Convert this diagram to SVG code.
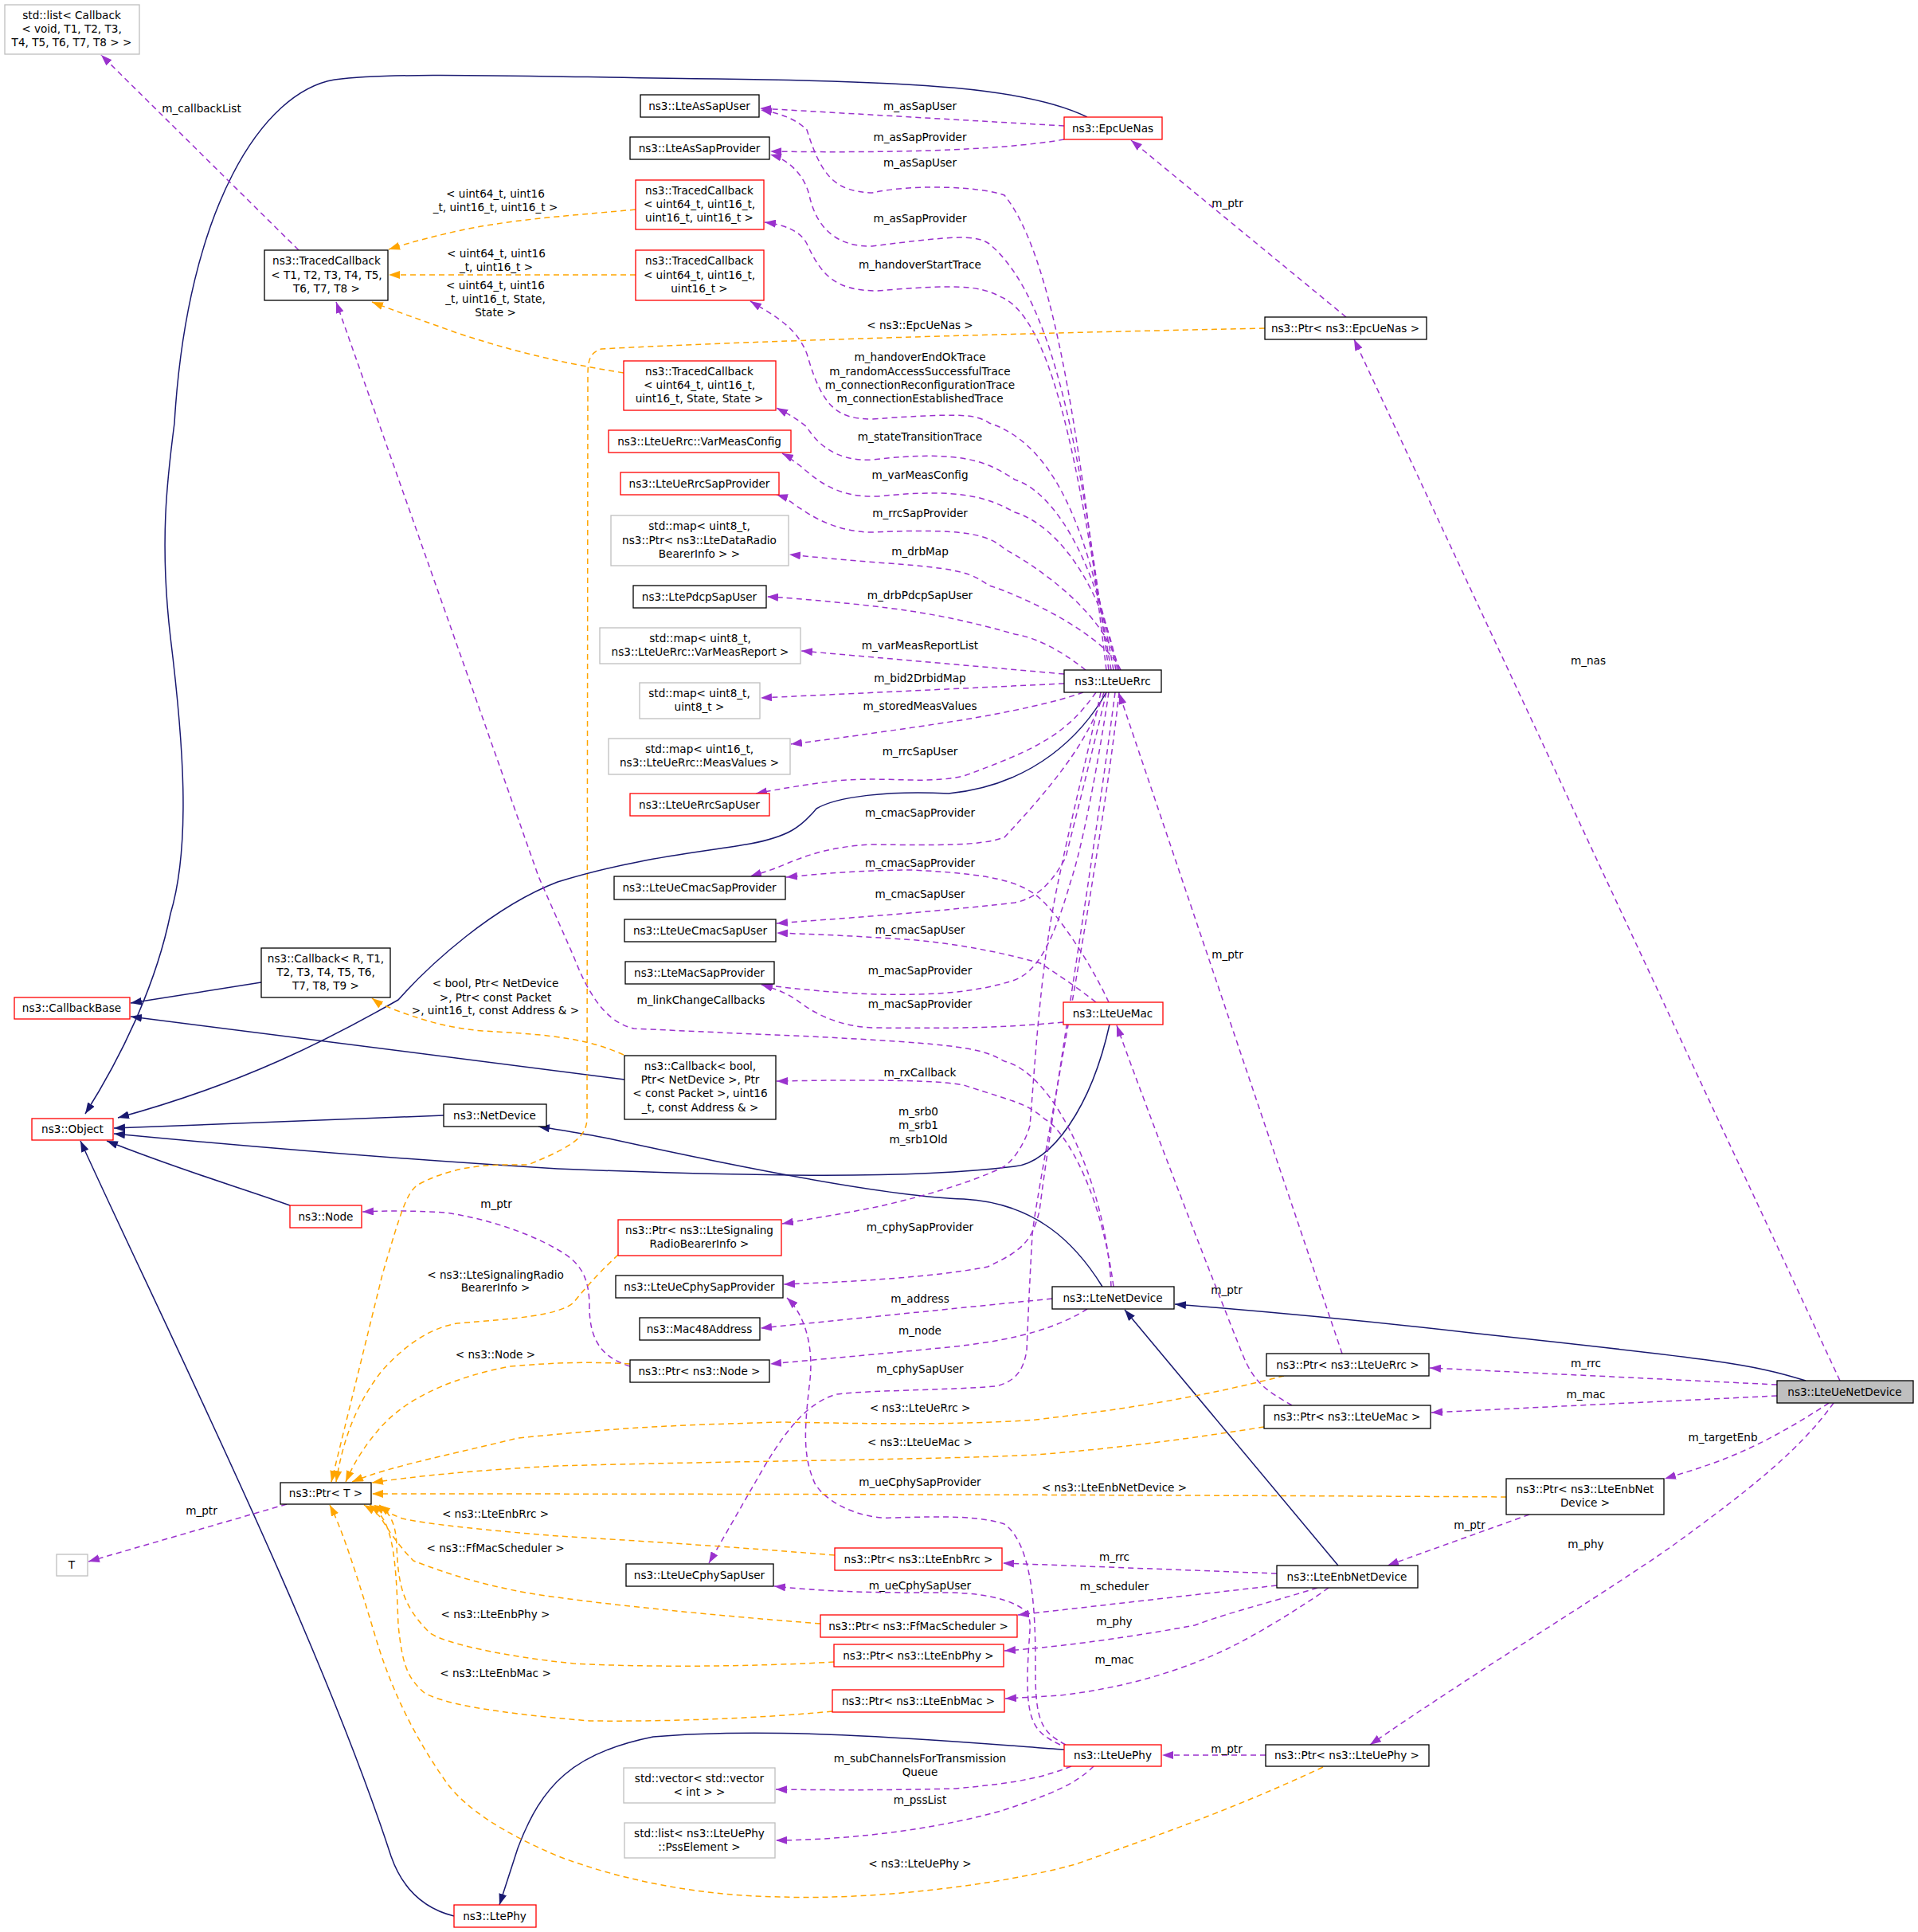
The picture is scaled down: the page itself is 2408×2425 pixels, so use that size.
<svg xmlns="http://www.w3.org/2000/svg" width="2408" height="2425" viewBox="0 0 2408 2425">
<style>
text{font-family:"DejaVu Sans","Liberation Sans",sans-serif;font-size:13.6px;fill:#000}
.n text{text-anchor:middle}
.l{text-anchor:middle}
rect{fill:#fff;stroke-width:1.3}
.b rect{stroke:#000}
.r rect{stroke:#ff0000}
.g rect{stroke:#bfbfbf}
.s rect{stroke:#000;fill:#bfbfbf}
.inh{fill:none;stroke:#191970;stroke-width:1.5;marker-end:url(#an)}
.use{fill:none;stroke:#9a32cd;stroke-width:1.5;stroke-dasharray:7,5;marker-end:url(#ap)}
.tpl{fill:none;stroke:#ffa500;stroke-width:1.5;stroke-dasharray:7,5;marker-end:url(#ao)}
</style>
<defs>
<marker id="an" markerWidth="14" markerHeight="10" refX="14" refY="5" orient="auto" markerUnits="userSpaceOnUse"><path d="M0,0L14,5L0,10z" fill="#191970"/></marker>
<marker id="ap" markerWidth="14" markerHeight="10" refX="14" refY="5" orient="auto" markerUnits="userSpaceOnUse"><path d="M0,0L14,5L0,10z" fill="#9a32cd"/></marker>
<marker id="ao" markerWidth="14" markerHeight="10" refX="14" refY="5" orient="auto" markerUnits="userSpaceOnUse"><path d="M0,0L14,5L0,10z" fill="#ffa500"/></marker>
</defs>
<rect x="0" y="0" width="2408" height="2425" style="fill:#fff;stroke:none"/>
<g id="edges">
<!-- inheritance -->
<path class="inh" d="M1365,147 C1290,110 1150,102 900,99 C650,96 500,90 420,100 C330,115 235,260 219,531 C210,600 200,680 214,800 C230,930 240,1060 214,1147 C195,1240 150,1330 107,1398"/>
<path class="inh" d="M1389,869 C1360,920 1300,985 1191,996 C1115,992 1050,1000 1025,1015 C1006,1038 990,1050 942,1059 C880,1070 796,1077 700,1107 C619,1138 540,1210 500,1255 C414,1304 306,1360 148,1403"/>
<path class="inh" d="M1393,1286 C1370,1390 1320,1460 1274,1464 C1146,1480 955,1477 700,1467 C500,1455 300,1438 143,1423"/>
<path class="inh" d="M557,1400 L143,1416"/>
<path class="inh" d="M784,1355 L164,1276"/>
<path class="inh" d="M328,1233 L164,1259"/>
<path class="inh" d="M364,1513 C300,1490 230,1470 134,1432"/>
<path class="inh" d="M1384,1615 C1350,1560 1300,1510 1210,1505 C1146,1503 1019,1485 764,1429 C730,1422 700,1418 676,1414"/>
<path class="inh" d="M2267,1733 C2200,1712 2154,1706 1847,1673 C1700,1656 1600,1647 1475,1637"/>
<path class="inh" d="M1680,1965 L1412,1644"/>
<path class="inh" d="M1336,2196 C1200,2186 981,2166 820,2180 C720,2200 680,2240 650,2320 L627,2391"/>
<path class="inh" d="M570,2405 C530,2395 505,2370 491,2330 C400,2050 200,1650 101,1432"/>
<!-- purple -->
<path class="use" d="M1336,158 L954,136"/>
<path class="use" d="M1336,175 C1250,190 1100,192 967,190"/>
<path class="use" d="M1389,841 C1360,600 1330,330 1261,245 C1235,235 1150,230 1095,242 C1050,240 1032,224 1013,163 C1000,150 980,142 955,138"/>
<path class="use" d="M1392,841 C1360,600 1330,380 1242,306 C1225,295 1204,295 1095,309 C1050,310 1025,286 1016,245 C1010,220 990,200 967,194"/>
<path class="use" d="M1395,841 C1360,640 1330,400 1255,372 C1230,358 1197,357 1102,365 C1050,365 1032,347 1013,306 C1005,290 985,282 960,279"/>
<path class="use" d="M1398,841 C1370,680 1330,560 1242,531 C1225,520 1210,518 1095,526 C1050,526 1032,510 1013,444 C1000,410 970,395 942,378"/>
<path class="use" d="M1401,841 C1380,720 1330,620 1274,602 C1240,580 1210,564 1095,577 C1050,580 1025,556 1013,536 C1000,525 990,520 975,512"/>
<path class="use" d="M1403,841 C1385,740 1330,660 1274,643 C1240,625 1210,612 1102,623 C1050,625 1025,602 1005,585 C995,578 990,573 982,569"/>
<path class="use" d="M1405,841 C1390,770 1300,710 1261,689 C1240,670 1210,663 1095,668 C1050,668 1019,648 1000,635 C990,628 985,624 975,621"/>
<path class="use" d="M1407,841 C1390,800 1290,750 1242,735 C1220,720 1210,714 1115,707 C1060,703 1020,699 991,696"/>
<path class="use" d="M1363,841 C1330,815 1300,800 1274,796 C1200,775 1146,765 1050,756 C1010,752 985,750 963,749"/>
<path class="use" d="M1336,846 L1006,817"/>
<path class="use" d="M1336,858 L955,876"/>
<path class="use" d="M1360,869 C1330,880 1274,893 1200,905 C1100,920 1050,927 993,934"/>
<path class="use" d="M1376,869 C1340,920 1306,939 1210,974 C1160,985 1115,974 1050,980 C1010,985 980,990 949,996"/>
<path class="use" d="M1386,869 C1370,920 1338,969 1261,1051 C1230,1062 1178,1061 1095,1060 C1050,1062 1019,1071 990,1083 C970,1092 955,1096 942,1100"/>
<path class="use" d="M1392,1258 C1370,1210 1330,1150 1306,1128 C1280,1105 1242,1097 1146,1092 C1080,1092 1030,1097 987,1101"/>
<path class="use" d="M1389,869 C1370,950 1338,1076 1338,1076 C1320,1110 1300,1128 1274,1133 C1150,1147 1050,1153 975,1159"/>
<path class="use" d="M1376,1258 C1340,1230 1306,1209 1306,1209 C1260,1196 1210,1186 1150,1180 C1080,1175 1030,1173 975,1171"/>
<path class="use" d="M1392,869 C1380,950 1360,1060 1344,1107 C1320,1190 1300,1220 1274,1230 C1220,1248 1159,1249 1100,1248 C1040,1246 1000,1241 956,1236"/>
<path class="use" d="M1335,1283 C1260,1290 1210,1291 1095,1290 C1050,1288 1019,1270 1000,1255 C985,1245 970,1240 956,1236"/>
<path class="use" d="M1395,1615 C1390,1500 1330,1350 1261,1332 C1230,1315 1210,1311 1019,1301 C900,1296 796,1291 796,1291 C770,1285 745,1265 720,1200 L676,1100 L422,379"/>
<path class="use" d="M1398,1615 C1380,1480 1330,1413 1312,1405 C1290,1385 1274,1383 1210,1362 C1180,1357 1146,1356 1060,1356 C1020,1356 990,1357 975,1357"/>
<path class="use" d="M1382,869 C1365,950 1350,1005 1330,1100 C1306,1209 1300,1330 1293,1413 C1285,1440 1270,1458 1261,1464 C1220,1485 1146,1505 1100,1515 C1050,1525 1010,1531 982,1536"/>
<path class="use" d="M1400,869 C1370,1100 1320,1400 1305,1520 C1295,1560 1282,1570 1240,1590 C1191,1600 1100,1608 984,1612"/>
<path class="use" d="M1321,1630 L955,1667"/>
<path class="use" d="M1365,1643 C1330,1665 1282,1681 1200,1690 C1100,1700 1030,1706 967,1712"/>
<path class="use" d="M791,1715 C760,1705 740,1687 740,1640 C740,1605 730,1585 701,1569 C660,1545 606,1529 560,1522 C510,1519 480,1520 455,1521"/>
<path class="use" d="M1338,2190 C1310,2175 1300,2164 1300,2100 C1300,2040 1300,1941 1261,1913 C1230,1903 1191,1903 1120,1905 C1086,1907 1040,1890 1023,1862 C1009,1830 1009,1801 1016,1740 C1023,1690 1010,1650 988,1629"/>
<path class="use" d="M1405,869 C1380,1100 1300,1500 1296,1550 C1292,1620 1289,1695 1289,1695 C1285,1720 1275,1734 1250,1740 C1191,1745 1086,1745 1050,1750 C1016,1760 990,1790 960,1840 L890,1962"/>
<path class="use" d="M1331,2190 C1300,2175 1289,2164 1290,2100 C1292,2041 1296,2041 1290,2025 C1280,2013 1250,2000 1191,1999 C1100,1999 1051,1999 972,1991"/>
<path class="use" d="M1603,1975 L1259,1962"/>
<path class="use" d="M1603,1990 L1278,2027"/>
<path class="use" d="M1654,1993 C1600,2010 1542,2024 1500,2040 C1402,2058 1320,2068 1261,2072"/>
<path class="use" d="M1668,1993 C1630,2020 1577,2052 1540,2070 C1472,2102 1400,2120 1331,2128 C1300,2130 1280,2131 1262,2132"/>
<path class="use" d="M1920,1901 L1742,1965"/>
<path class="use" d="M2296,1761 C2260,1785 2218,1809 2180,1825 C2150,1838 2120,1847 2090,1856"/>
<path class="use" d="M2302,1761 C2260,1820 2195,1871 2100,1940 C2021,1996 1850,2100 1720,2190"/>
<path class="use" d="M1589,2203 L1459,2203"/>
<path class="use" d="M2231,1738 L1795,1717"/>
<path class="use" d="M2231,1752 L1797,1773"/>
<path class="use" d="M2310,1733 L1700,426"/>
<path class="use" d="M1690,398 L1420,176"/>
<path class="use" d="M1685,1699 L1405,870"/>
<path class="use" d="M1622,1764 C1590,1745 1575,1737 1560,1700 C1520,1600 1450,1420 1402,1287"/>
<path class="use" d="M1345,2217 C1300,2235 1261,2239 1200,2245 C1121,2247 1050,2247 974,2246"/>
<path class="use" d="M1373,2217 C1350,2240 1317,2253 1260,2272 C1191,2292 1086,2309 974,2310"/>
<path class="use" d="M360,1888 L111,1960"/>
<path class="use" d="M375,314 L127,69"/>
<!-- orange -->
<path class="tpl" d="M798,263 C700,272 638,276 574,290 C530,300 510,306 488,313"/>
<path class="tpl" d="M798,345 L488,345"/>
<path class="tpl" d="M783,468 C700,455 638,439 574,418 C530,402 500,392 467,379"/>
<path class="tpl" d="M783,1324 C740,1305 702,1299 606,1294 C560,1290 530,1280 497,1268 C485,1263 475,1259 467,1253"/>
<path class="tpl" d="M1588,412 C1200,420 900,430 755,438 C742,442 738,450 738,470 L737,1406 C735,1425 725,1437 663,1462 C620,1462 574,1460 523,1488 C510,1500 504,1518 480,1600 L416,1860"/>
<path class="tpl" d="M776,1575 C760,1590 740,1610 720,1635 C701,1651 650,1655 574,1661 C540,1667 510,1687 480,1720 C446,1763 430,1810 422,1860"/>
<path class="tpl" d="M791,1712 C740,1709 701,1710 640,1715 C574,1728 520,1750 485,1784 C460,1810 445,1835 434,1860"/>
<path class="tpl" d="M1612,1727 C1550,1742 1472,1762 1300,1782 C1191,1790 1050,1786 981,1785 C800,1790 765,1794 650,1805 C574,1824 490,1840 442,1860"/>
<path class="tpl" d="M1587,1791 C1500,1805 1402,1818 1300,1826 C1191,1832 900,1834 700,1840 C600,1845 520,1853 467,1861"/>
<path class="tpl" d="M1891,1879 C1600,1877 1000,1875 467,1875"/>
<path class="tpl" d="M1048,1952 C900,1940 800,1934 701,1928 C600,1920 530,1912 505,1906 C490,1900 480,1895 469,1889"/>
<path class="tpl" d="M1030,2038 C900,2028 772,2015 700,2005 C620,1995 560,1975 519,1959 C500,1940 484,1915 478,1905 C470,1896 462,1892 457,1889"/>
<path class="tpl" d="M1047,2086 C950,2092 807,2093 720,2088 C631,2079 560,2063 540,2050 C505,2015 500,1990 498,1940 C497,1910 488,1898 476,1889"/>
<path class="tpl" d="M1045,2148 C950,2157 842,2161 740,2160 C631,2151 560,2140 533,2125 C510,2105 505,2087 500,2040 C498,1990 497,1930 480,1905 C475,1897 470,1893 464,1889"/>
<path class="tpl" d="M1661,2218 C1560,2265 1472,2298 1350,2340 C1261,2365 1100,2385 981,2381 C880,2380 780,2360 701,2330 C630,2300 585,2270 561,2238 C520,2180 490,2119 470,2050 C440,1950 425,1910 414,1889"/>
</g>
<g id="labels">
<text class="l" x="253" y="141">m_callbackList</text>
<text class="l" x="622" y="248">&lt; uint64_t, uint16</text>
<text class="l" x="622" y="265">_t, uint16_t, uint16_t &gt;</text>
<text class="l" x="623" y="323">&lt; uint64_t, uint16</text>
<text class="l" x="623" y="340">_t, uint16_t &gt;</text>
<text class="l" x="622" y="363">&lt; uint64_t, uint16</text>
<text class="l" x="622" y="380">_t, uint16_t, State,</text>
<text class="l" x="622" y="397">State &gt;</text>
<text class="l" x="1155" y="138">m_asSapUser</text>
<text class="l" x="1155" y="177">m_asSapProvider</text>
<text class="l" x="1155" y="209">m_asSapUser</text>
<text class="l" x="1155" y="279">m_asSapProvider</text>
<text class="l" x="1155" y="337">m_handoverStartTrace</text>
<text class="l" x="1541" y="260">m_ptr</text>
<text class="l" x="1155" y="413">&lt; ns3::EpcUeNas &gt;</text>
<text class="l" x="1155" y="453">m_handoverEndOkTrace</text>
<text class="l" x="1155" y="471">m_randomAccessSuccessfulTrace</text>
<text class="l" x="1155" y="488">m_connectionReconfigurationTrace</text>
<text class="l" x="1155" y="505">m_connectionEstablishedTrace</text>
<text class="l" x="1155" y="553">m_stateTransitionTrace</text>
<text class="l" x="1155" y="601">m_varMeasConfig</text>
<text class="l" x="1155" y="649">m_rrcSapProvider</text>
<text class="l" x="1155" y="697">m_drbMap</text>
<text class="l" x="1155" y="752">m_drbPdcpSapUser</text>
<text class="l" x="1155" y="815">m_varMeasReportList</text>
<text class="l" x="1155" y="856">m_bid2DrbidMap</text>
<text class="l" x="1155" y="891">m_storedMeasValues</text>
<text class="l" x="1155" y="948">m_rrcSapUser</text>
<text class="l" x="1155" y="1025">m_cmacSapProvider</text>
<text class="l" x="1155" y="1088">m_cmacSapProvider</text>
<text class="l" x="1155" y="1127">m_cmacSapUser</text>
<text class="l" x="1155" y="1172">m_cmacSapUser</text>
<text class="l" x="1155" y="1223">m_macSapProvider</text>
<text class="l" x="880" y="1260">m_linkChangeCallbacks</text>
<text class="l" x="1155" y="1265">m_macSapProvider</text>
<text class="l" x="1541" y="1203">m_ptr</text>
<text class="l" x="1994" y="834">m_nas</text>
<text class="l" x="1155" y="1351">m_rxCallback</text>
<text class="l" x="1153" y="1400">m_srb0</text>
<text class="l" x="1153" y="1417">m_srb1</text>
<text class="l" x="1153" y="1435">m_srb1Old</text>
<text class="l" x="1155" y="1545">m_cphySapProvider</text>
<text class="l" x="622" y="1239">&lt; bool, Ptr&lt; NetDevice</text>
<text class="l" x="622" y="1257">&gt;, Ptr&lt; const Packet</text>
<text class="l" x="622" y="1273">&gt;, uint16_t, const Address &amp; &gt;</text>
<text class="l" x="623" y="1516">m_ptr</text>
<text class="l" x="622" y="1605">&lt; ns3::LteSignalingRadio</text>
<text class="l" x="622" y="1621">BearerInfo &gt;</text>
<text class="l" x="622" y="1705">&lt; ns3::Node &gt;</text>
<text class="l" x="1155" y="1635">m_address</text>
<text class="l" x="1155" y="1675">m_node</text>
<text class="l" x="1155" y="1723">m_cphySapUser</text>
<text class="l" x="1540" y="1624">m_ptr</text>
<text class="l" x="1155" y="1772">&lt; ns3::LteUeRrc &gt;</text>
<text class="l" x="1155" y="1815">&lt; ns3::LteUeMac &gt;</text>
<text class="l" x="1155" y="1865">m_ueCphySapProvider</text>
<text class="l" x="1399" y="1872">&lt; ns3::LteEnbNetDevice &gt;</text>
<text class="l" x="1399" y="1959">m_rrc</text>
<text class="l" x="1155" y="1995">m_ueCphySapUser</text>
<text class="l" x="1399" y="1996">m_scheduler</text>
<text class="l" x="1399" y="2040">m_phy</text>
<text class="l" x="1399" y="2088">m_mac</text>
<text class="l" x="1540" y="2200">m_ptr</text>
<text class="l" x="1155" y="2212">m_subChannelsForTransmission</text>
<text class="l" x="1155" y="2229">Queue</text>
<text class="l" x="1155" y="2264">m_pssList</text>
<text class="l" x="1155" y="2344">&lt; ns3::LteUePhy &gt;</text>
<text class="l" x="1991" y="1716">m_rrc</text>
<text class="l" x="1991" y="1755">m_mac</text>
<text class="l" x="2163" y="1809">m_targetEnb</text>
<text class="l" x="1845" y="1919">m_ptr</text>
<text class="l" x="1991" y="1943">m_phy</text>
<text class="l" x="253" y="1901">m_ptr</text>
<text class="l" x="622" y="1905">&lt; ns3::LteEnbRrc &gt;</text>
<text class="l" x="622" y="1948">&lt; ns3::FfMacScheduler &gt;</text>
<text class="l" x="622" y="2031">&lt; ns3::LteEnbPhy &gt;</text>
<text class="l" x="622" y="2105">&lt; ns3::LteEnbMac &gt;</text>
</g>
<g id="stdlist" class="n g"><rect x="6" y="6" width="169" height="62"/><text x="90" y="24">std::list&lt; Callback</text><text x="90" y="41">&lt; void, T1, T2, T3,</text><text x="90" y="58"> T4, T5, T6, T7, T8 &gt; &gt;</text></g>
<g id="TracedCallbackGen" class="n b"><rect x="332" y="314" width="155" height="63"/><text x="410" y="332">ns3::TracedCallback</text><text x="410" y="350">&lt; T1, T2, T3, T4, T5,</text><text x="410" y="367">T6, T7, T8 &gt;</text></g>
<g id="LteAsSapUser" class="n b"><rect x="804" y="119" width="149" height="28"/><text x="878" y="138">ns3::LteAsSapUser</text></g>
<g id="LteAsSapProvider" class="n b"><rect x="791" y="172" width="175" height="28"/><text x="878" y="191">ns3::LteAsSapProvider</text></g>
<g id="TC4" class="n r"><rect x="798" y="226" width="161" height="62"/><text x="878" y="244">ns3::TracedCallback</text><text x="878" y="261">&lt; uint64_t, uint16_t,</text><text x="878" y="278">uint16_t, uint16_t &gt;</text></g>
<g id="TC3" class="n r"><rect x="798" y="314" width="161" height="63"/><text x="878" y="332">ns3::TracedCallback</text><text x="878" y="350">&lt; uint64_t, uint16_t,</text><text x="878" y="367">uint16_t &gt;</text></g>
<g id="TCstate" class="n r"><rect x="783" y="453" width="191" height="62"/><text x="878" y="471">ns3::TracedCallback</text><text x="878" y="488">&lt; uint64_t, uint16_t,</text><text x="878" y="505">uint16_t, State, State &gt;</text></g>
<g id="VarMeasConfig" class="n r"><rect x="764" y="540" width="229" height="28"/><text x="878" y="559">ns3::LteUeRrc::VarMeasConfig</text></g>
<g id="LteUeRrcSapProvider" class="n r"><rect x="779" y="593" width="199" height="28"/><text x="878" y="612">ns3::LteUeRrcSapProvider</text></g>
<g id="drbMap" class="n g"><rect x="767" y="647" width="223" height="63"/><text x="878" y="665">std::map&lt; uint8_t,</text><text x="878" y="683"> ns3::Ptr&lt; ns3::LteDataRadio</text><text x="878" y="700">BearerInfo &gt; &gt;</text></g>
<g id="LtePdcpSapUser" class="n b"><rect x="795" y="735" width="167" height="28"/><text x="878" y="754">ns3::LtePdcpSapUser</text></g>
<g id="VarMeasReport" class="n g"><rect x="753" y="788" width="252" height="45"/><text x="879" y="806">std::map&lt; uint8_t,</text><text x="879" y="823"> ns3::LteUeRrc::VarMeasReport &gt;</text></g>
<g id="map88" class="n g"><rect x="803" y="857" width="151" height="45"/><text x="878" y="875">std::map&lt; uint8_t,</text><text x="878" y="892">uint8_t &gt;</text></g>
<g id="MeasValues" class="n g"><rect x="764" y="927" width="228" height="45"/><text x="878" y="945">std::map&lt; uint16_t,</text><text x="878" y="962"> ns3::LteUeRrc::MeasValues &gt;</text></g>
<g id="LteUeRrcSapUser" class="n r"><rect x="791" y="996" width="175" height="28"/><text x="878" y="1015">ns3::LteUeRrcSapUser</text></g>
<g id="LteUeCmacSapProvider" class="n b"><rect x="771" y="1100" width="215" height="29"/><text x="878" y="1119">ns3::LteUeCmacSapProvider</text></g>
<g id="LteUeCmacSapUser" class="n b"><rect x="784" y="1154" width="190" height="28"/><text x="879" y="1173">ns3::LteUeCmacSapUser</text></g>
<g id="LteMacSapProvider" class="n b"><rect x="785" y="1207" width="187" height="28"/><text x="878" y="1226">ns3::LteMacSapProvider</text></g>
<g id="CallbackR" class="n b"><rect x="328" y="1190" width="162" height="62"/><text x="409" y="1208">ns3::Callback&lt; R, T1,</text><text x="409" y="1225">T2, T3, T4, T5, T6,</text><text x="409" y="1242">T7, T8, T9 &gt;</text></g>
<g id="CallbackBase" class="n r"><rect x="18" y="1252" width="145" height="27"/><text x="90" y="1270">ns3::CallbackBase</text></g>
<g id="CallbackBool" class="n b"><rect x="784" y="1325" width="190" height="80"/><text x="879" y="1343">ns3::Callback&lt; bool,</text><text x="879" y="1360"> Ptr&lt; NetDevice &gt;, Ptr</text><text x="879" y="1377">&lt; const Packet &gt;, uint16</text><text x="879" y="1395">_t, const Address &amp; &gt;</text></g>
<g id="Object" class="n r"><rect x="40" y="1404" width="102" height="27"/><text x="91" y="1422">ns3::Object</text></g>
<g id="NetDevice" class="n b"><rect x="557" y="1386" width="129" height="28"/><text x="621" y="1405">ns3::NetDevice</text></g>
<g id="Node" class="n r"><rect x="364" y="1513" width="90" height="28"/><text x="409" y="1532">ns3::Node</text></g>
<g id="PtrSignaling" class="n r"><rect x="776" y="1531" width="205" height="45"/><text x="878" y="1549">ns3::Ptr&lt; ns3::LteSignaling</text><text x="878" y="1566">RadioBearerInfo &gt;</text></g>
<g id="LteUeCphySapProvider" class="n b"><rect x="773" y="1601" width="210" height="28"/><text x="878" y="1620">ns3::LteUeCphySapProvider</text></g>
<g id="Mac48Address" class="n b"><rect x="803" y="1654" width="151" height="28"/><text x="878" y="1673">ns3::Mac48Address</text></g>
<g id="PtrNode" class="n b"><rect x="791" y="1707" width="175" height="28"/><text x="878" y="1726">ns3::Ptr&lt; ns3::Node &gt;</text></g>
<g id="PtrT" class="n b"><rect x="352" y="1861" width="114" height="27"/><text x="409" y="1879">ns3::Ptr&lt; T &gt;</text></g>
<g id="T" class="n g"><rect x="71" y="1951" width="39" height="27"/><text x="90" y="1969">T</text></g>
<g id="EpcUeNas" class="n r"><rect x="1336" y="147" width="123" height="28"/><text x="1397" y="166">ns3::EpcUeNas</text></g>
<g id="PtrEpcUeNas" class="n b"><rect x="1588" y="398" width="203" height="28"/><text x="1689" y="417">ns3::Ptr&lt; ns3::EpcUeNas &gt;</text></g>
<g id="LteUeRrc" class="n b"><rect x="1336" y="841" width="122" height="28"/><text x="1397" y="860">ns3::LteUeRrc</text></g>
<g id="LteUeMac" class="n r"><rect x="1335" y="1258" width="125" height="28"/><text x="1397" y="1277">ns3::LteUeMac</text></g>
<g id="LteNetDevice" class="n b"><rect x="1321" y="1615" width="153" height="28"/><text x="1397" y="1634">ns3::LteNetDevice</text></g>
<g id="PtrLteUeRrc" class="n b"><rect x="1590" y="1699" width="204" height="28"/><text x="1692" y="1718">ns3::Ptr&lt; ns3::LteUeRrc &gt;</text></g>
<g id="PtrLteUeMac" class="n b"><rect x="1587" y="1764" width="209" height="29"/><text x="1691" y="1783">ns3::Ptr&lt; ns3::LteUeMac &gt;</text></g>
<g id="LteUeNetDevice" class="n s"><rect x="2231" y="1733" width="171" height="28"/><text x="2316" y="1752">ns3::LteUeNetDevice</text></g>
<g id="PtrLteEnbNetDevice" class="n b"><rect x="1891" y="1856" width="198" height="45"/><text x="1990" y="1874">ns3::Ptr&lt; ns3::LteEnbNet</text><text x="1990" y="1891">Device &gt;</text></g>
<g id="PtrLteEnbRrc" class="n r"><rect x="1048" y="1943" width="210" height="28"/><text x="1153" y="1962">ns3::Ptr&lt; ns3::LteEnbRrc &gt;</text></g>
<g id="LteUeCphySapUser" class="n b"><rect x="786" y="1963" width="185" height="28"/><text x="878" y="1982">ns3::LteUeCphySapUser</text></g>
<g id="LteEnbNetDevice" class="n b"><rect x="1603" y="1965" width="177" height="28"/><text x="1691" y="1984">ns3::LteEnbNetDevice</text></g>
<g id="PtrFfMacScheduler" class="n r"><rect x="1030" y="2027" width="247" height="28"/><text x="1153" y="2046">ns3::Ptr&lt; ns3::FfMacScheduler &gt;</text></g>
<g id="PtrLteEnbPhy" class="n r"><rect x="1047" y="2064" width="213" height="28"/><text x="1153" y="2083">ns3::Ptr&lt; ns3::LteEnbPhy &gt;</text></g>
<g id="PtrLteEnbMac" class="n r"><rect x="1045" y="2121" width="216" height="28"/><text x="1153" y="2140">ns3::Ptr&lt; ns3::LteEnbMac &gt;</text></g>
<g id="LteUePhy" class="n r"><rect x="1336" y="2190" width="122" height="27"/><text x="1397" y="2208">ns3::LteUePhy</text></g>
<g id="PtrLteUePhy" class="n b"><rect x="1589" y="2190" width="205" height="27"/><text x="1691" y="2208">ns3::Ptr&lt; ns3::LteUePhy &gt;</text></g>
<g id="vectorVector" class="n g"><rect x="783" y="2219" width="190" height="44"/><text x="878" y="2237">std::vector&lt; std::vector</text><text x="878" y="2254">&lt; int &gt; &gt;</text></g>
<g id="pssList" class="n g"><rect x="784" y="2288" width="189" height="44"/><text x="878" y="2306">std::list&lt; ns3::LteUePhy</text><text x="878" y="2323">::PssElement &gt;</text></g>
<g id="LtePhy" class="n r"><rect x="570" y="2391" width="103" height="28"/><text x="621" y="2410">ns3::LtePhy</text></g>
</svg>
